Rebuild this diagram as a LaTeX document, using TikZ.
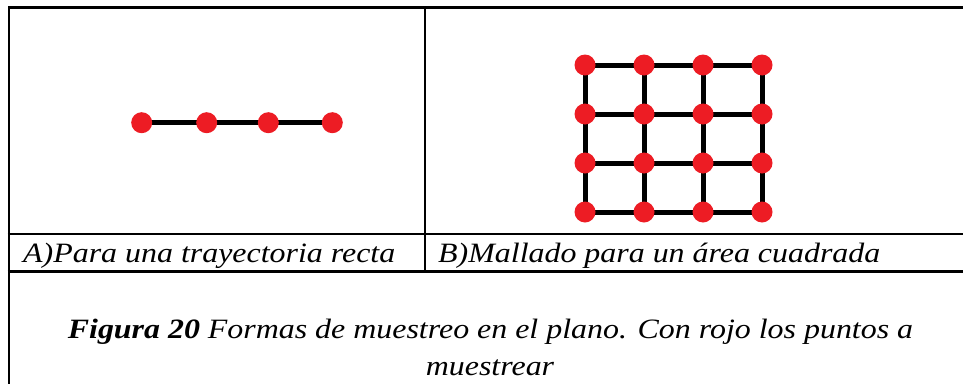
\documentclass[tikz,border=0pt]{standalone}
\usepackage{fontspec}
\setmainfont[FakeStretch=1.14]{Liberation Serif}
\definecolor{dotred}{HTML}{ED1C24}
\begin{document}
\begin{tikzpicture}[x=1pt,y=-1pt,
  rule/.style={line width=2.6pt,black},
  link/.style={line width=5pt,black},
  dot/.style={circle,fill=dotred,inner sep=0pt,minimum size=21pt},
  lab/.style={anchor=base west,inner sep=0pt,font=\fontsize{28}{32}\selectfont\itshape},
  captext/.style={anchor=base,inner sep=0pt,font=\fontsize{28}{32}\selectfont\itshape}]
\useasboundingbox (0,0) rectangle (963,383);
% table rules
\draw[rule] (9,389) -- (9,7.3) -- (970,7.3);
\draw[rule] (7.7,234) -- (970,234);
\draw[rule] (7.7,271.5) -- (970,271.5);
\draw[rule] (425,7.3) -- (425,271.5);
% A: straight path
\foreach \i/\x in {1/141.7,2/206.7,3/268.3,4/332.3}
  \coordinate (p\i) at (\x,122.7);
\draw[link] (p1) -- (p2) -- (p3) -- (p4);
\foreach \i in {1,2,3,4}
  \node[dot] (a\i) at (p\i) {};
% B: grid
\foreach \c/\x in {1/585,2/644,3/703,4/762}
  \foreach \r/\y in {1/65,2/114,3/163,4/212}
    \coordinate (g\c\r) at (\x,\y);
\foreach \r in {1,2,3,4}
  \draw[link] (g1\r) -- (g4\r);
\foreach \c in {1,2,3,4}
  \draw[link] (g\c1) -- (g\c4);
\foreach \c in {1,2,3,4}
  \foreach \r in {1,2,3,4}
    \node[dot] (d\c\r) at (g\c\r) {};
% labels
\node[lab] (la) at (23,262) {A)Para una trayectoria recta};
\node[lab] (lb) at (438,262) {B)Mallado para un área cuadrada};
\node[captext] (c1) at (490.5,338) {\textbf{Figura 20} Formas de muestreo en el plano. Con rojo los puntos a};
\node[captext] (c2) at (490,375) {muestrear};
\end{tikzpicture}
\end{document}
